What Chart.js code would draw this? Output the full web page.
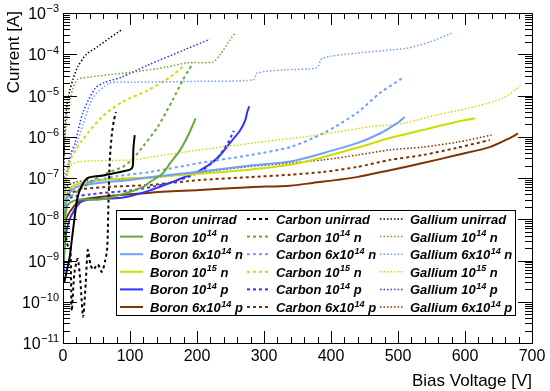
<!DOCTYPE html>
<html>
<head>
<meta charset="utf-8">
<script src="https://cdn.jsdelivr.net/npm/chart.js@4.4.1/dist/chart.umd.min.js"></script>
<style>
  html, body { margin: 0; padding: 0; background: #fff; }
  #wrap { width: 550px; height: 391px; }
</style>
</head>
<body>
<div id="wrap"><canvas id="myChart" width="550" height="391"></canvas></div>
<script>
// [bias voltage V, current A]
const boronUnirrad = [[2,3e-10],[6,6e-10],[10,1.2e-9],[13,3e-9],[17,1e-8],[21,3e-8],[27,6e-8],[37,1e-7],[60,1.15e-7],[80,1.35e-7],[100,1.6e-7],[104,1.9e-7],[105,5e-7],[107,1.1e-6]];
const carbonUnirrad = [[3,5e-9],[8,2e-9],[11,2e-9],[13,6e-11],[17,5e-10],[22,1.1e-9],[26,3e-10],[30,4.3e-11],[34,3e-10],[37,1.8e-9],[41,8e-10],[45,6e-10],[52,8e-10],[58,5.3e-10],[63,1e-9],[66,2e-9],[68,3e-8],[70,3e-7],[73,1.2e-6],[76,2.5e-6],[79,4e-6]];
const galliumUnirrad = [[0.5,1e-8],[1,1e-7],[2,6e-7],[3,2e-6],[6,6e-6],[10,1.3e-5],[15,2.5e-5],[22,5e-5],[35,1e-4],[51,1.5e-4],[70,2.5e-4],[88,4e-4]];

const boron1e14n = [[1,1e-9],[2,5e-9],[5,1.8e-8],[10,2.5e-8],[25,3e-8],[55,3e-8],[85,3.9e-8],[119,6e-8],[130,8e-8],[149,1.3e-7],[160,2.3e-7],[175,4.8e-7],[187,1.1e-6],[198,2.8e-6]];
const carbon1e14n = [[2,1e-8],[8,3e-8],[30,6e-8],[60,1.2e-7],[90,1.9e-7],[105,3e-7],[120,6e-7],[141,1.7e-6],[164,8e-6],[179,2.4e-5],[187,4e-5],[194,6e-5]];
const gallium1e14n = [[1,2e-7],[3,1e-6],[6,3e-6],[12,1e-5],[21,2.4e-5],[40,2.8e-5],[70,3.2e-5],[110,3.8e-5],[155,4.9e-5],[185,6.2e-5],[224,6.5e-5],[234,9.5e-5],[249,2.2e-4],[257,3.3e-4]];

const boron6e14n = [[1,3e-9],[3,1.5e-8],[8,4e-8],[20,6e-8],[50,7.5e-8],[100,9e-8],[130,1.05e-7],[200,1.4e-7],[280,2e-7],[339,2.5e-7],[388,4e-7],[439,7e-7],[473,1.2e-6],[498,2.1e-6],[510,3e-6]];
const carbon6e14n = [[1,1e-8],[4,3e-8],[10,5e-8],[40,8e-8],[80,1.1e-7],[130,1.4e-7],[204,2.3e-7],[279,3.6e-7],[339,5.6e-7],[388,1.2e-6],[439,3.8e-6],[473,1.15e-5],[506,2.6e-5]];
const gallium6e14n = [[1,3e-8],[3,1e-7],[10,3e-7],[21,7e-7],[30,2e-6],[45,9e-6],[70,2e-5],[103,2.1e-5],[200,2.2e-5],[284,2.4e-5],[290,3.5e-5],[330,4.2e-5],[379,4.7e-5],[387,8e-5],[439,1.07e-4],[513,1.4e-4],[548,2e-4],[581,3.3e-4]];

const boron1e15n = [[1,5e-9],[3,2e-8],[8,5e-8],[20,7e-8],[60,9e-8],[130,1.05e-7],[250,1.45e-7],[339,2.1e-7],[388,3.2e-7],[439,5.4e-7],[488,9.3e-7],[537,1.45e-6],[588,2.3e-6],[615,2.8e-6]];
const carbon1e15n = [[1,3e-8],[5,1e-7],[12,3e-7],[20,5e-7],[28,8e-7],[58,3e-6],[88,6.9e-6],[127,1.35e-5],[160,2.8e-5],[182,5.5e-5]];
const gallium1e15n = [[1,3e-8],[5,1e-7],[12,2e-7],[25,2.5e-7],[104,2.75e-7],[130,3.2e-7],[204,4.8e-7],[319,8.3e-7],[358,9.8e-7],[409,1.3e-6],[458,1.75e-6],[507,2.1e-6],[558,3.4e-6],[607,5e-6],[657,8.7e-6],[682,1.7e-5]];

const boron1e14p = [[1,5e-10],[3,3e-9],[10,1e-8],[25,2.5e-8],[40,3e-8],[88,3.3e-8],[130,5e-8],[178,1e-7],[204,1.5e-7],[230,3e-7],[249,7e-7],[264,1.4e-6],[272,2.5e-6],[275,4e-6],[278,5.5e-6]];
const carbon1e14p = [[1,1e-8],[5,3e-8],[40,4e-8],[100,5e-8],[150,7e-8],[200,1.3e-7],[230,3e-7],[246,7e-7],[252,1.1e-6],[255,1.4e-6]];
const gallium1e14p = [[1,2e-8],[5,1e-7],[12,4e-7],[18,7e-7],[30,4e-6],[48,1.5e-5],[63,2.1e-5],[88,2.8e-5],[127,5.5e-5],[182,1.3e-4],[219,2.3e-4]];

const boron6e14p = [[1,2e-9],[3,8e-9],[10,1.5e-8],[28,3e-8],[130,4.4e-8],[204,5.1e-8],[279,6e-8],[339,6.5e-8],[373,7.6e-8],[439,1.05e-7],[488,1.55e-7],[537,2.3e-7],[588,3.6e-7],[637,5.6e-7],[667,9.3e-7],[679,1.2e-6]];
const carbon6e14p = [[1,5e-9],[5,3e-8],[20,5e-8],[60,6e-8],[130,6.8e-8],[204,8.9e-8],[279,1.05e-7],[339,1.2e-7],[388,1.4e-7],[439,1.85e-7],[488,2.75e-7],[537,3.6e-7],[588,5.4e-7],[637,8.3e-7]];
const gallium6e14p = [[1,2e-8],[5,6e-8],[20,8e-8],[60,9e-8],[130,1e-7],[279,1.9e-7],[339,2.3e-7],[388,2.75e-7],[439,3.6e-7],[488,4.8e-7],[537,5.6e-7],[588,7.4e-7],[640,1.1e-6]];

// legend rows: [label parts, colour]
const fluences = [
  ['unirrad', null, ''],
  ['10', '14', ' n'],
  ['6x10', '14', ' n'],
  ['10', '15', ' n'],
  ['10', '14', ' p'],
  ['6x10', '14', ' p']
];
const colours = ['#000000', '#66aa33', '#6f9fff', '#ccdd00', '#3333ff', '#7f3300'];
const materials = ['Boron', 'Carbon', 'Gallium'];
const seriesData = [
  [boronUnirrad, carbonUnirrad, galliumUnirrad],
  [boron1e14n, carbon1e14n, gallium1e14n],
  [boron6e14n, carbon6e14n, gallium6e14n],
  [boron1e15n, carbon1e15n, gallium1e15n],
  [boron1e14p, carbon1e14p, gallium1e14p],
  [boron6e14p, carbon6e14p, gallium6e14p]
];

const xTicks = [0, 100, 200, 300, 400, 500, 600, 700];
const yExponents = [-11, -10, -9, -8, -7, -6, -5, -4, -3];

const styles = [
  { width: 2, dash: [] },
  { width: 2, dash: [3, 3] },
  { width: 1.5, dash: [1.5, 2] }
];

const FONT = '"Liberation Sans", Arial, Helvetica, sans-serif';

let datasets = [];
for (let r = 0; r < seriesData.length; r++) {
  for (let m = 0; m < 3; m++) {
    datasets.push({
      label: materials[m] + ' ' + fluences[r].join(''),
      data: seriesData[r][m].map(p => ({ x: p[0], y: p[1] })),
      borderColor: colours[r],
      borderWidth: styles[m].width,
      borderDash: styles[m].dash,
      pointRadius: 0,
      tension: 0.25,
      fill: false
    });
  }
}

// draw "base" + superscript + tail, returns width
function richText(ctx, parts, x, y, size, style, measureOnly) {
  let cx = x;
  ctx.font = style + size + 'px ' + FONT;
  let w0 = ctx.measureText(parts[0]).width;
  if (!measureOnly) ctx.fillText(parts[0], cx, y);
  cx += w0;
  if (parts[1]) {
    ctx.font = style + Math.round(size * 0.68) + 'px ' + FONT;
    if (!measureOnly) ctx.fillText(parts[1], cx + 0.5, y - size * 0.42);
    cx += ctx.measureText(parts[1]).width + 0.5;
  }
  if (parts[2]) {
    ctx.font = style + size + 'px ' + FONT;
    if (!measureOnly) ctx.fillText(parts[2], cx, y);
    cx += ctx.measureText(parts[2]).width;
  }
  return cx - x;
}

const framePlugin = {
  id: 'frame',
  afterDatasetsDraw(chart) {
    const ctx = chart.ctx;
    const a = chart.chartArea;
    const xs = chart.scales.x, ys = chart.scales.y;
    ctx.save();
    ctx.setLineDash([]);
    ctx.fillStyle = '#000';
    ctx.strokeStyle = '#000';

    // legend box
    const lx = 116, ly = 210, lw = 399, lh = 105;
    ctx.fillStyle = '#fff';
    ctx.fillRect(lx, ly, lw, lh);
    ctx.lineWidth = 1;
    ctx.strokeRect(lx + 0.5, ly + 0.5, lw, lh);
    const colLine = [[120, 143], [247, 270], [380, 403]];
    const colText = [150, 276, 410];
    ctx.textBaseline = 'alphabetic';
    ctx.textAlign = 'left';
    for (let r = 0; r < fluences.length; r++) {
      const cy = 219 + r * 17.6;
      for (let m = 0; m < 3; m++) {
        ctx.strokeStyle = colours[r];
        ctx.lineWidth = styles[m].width;
        ctx.setLineDash(styles[m].dash);
        ctx.beginPath();
        ctx.moveTo(colLine[m][0], cy);
        ctx.lineTo(colLine[m][1], cy);
        ctx.stroke();
        ctx.setLineDash([]);
        ctx.fillStyle = '#000';
        const f = fluences[r];
        richText(ctx, [materials[m] + ' ' + f[0], f[1], f[2]], colText[m], cy + 5, 13, 'italic bold ', false);
      }
    }

    // frame
    ctx.strokeStyle = '#000';
    ctx.lineWidth = 1;
    ctx.strokeRect(Math.round(a.left) + 0.5, Math.round(a.top) + 0.5, Math.round(a.right - a.left), Math.round(a.bottom - a.top));

    // x ticks (bottom and top, inward)
    ctx.beginPath();
    for (let v = 0; v <= 700; v += 20) {
      const px = Math.round(xs.getPixelForValue(v)) + 0.5;
      const len = v % 100 === 0 ? 12 : 6;
      ctx.moveTo(px, a.bottom); ctx.lineTo(px, a.bottom - len);
      ctx.moveTo(px, a.top); ctx.lineTo(px, a.top + len);
    }
    // y ticks (left and right, inward)
    for (let e = -11; e <= -3; e++) {
      const steps = e === -3 ? [1] : [1, 2, 3, 4, 5, 6, 7, 8, 9];
      for (const k of steps) {
        const py = Math.round(ys.getPixelForValue(k * Math.pow(10, e))) + 0.5;
        const len = k === 1 ? 14 : 7;
        ctx.moveTo(a.left, py); ctx.lineTo(a.left + len, py);
        ctx.moveTo(a.right, py); ctx.lineTo(a.right - len, py);
      }
    }
    ctx.stroke();

    // x tick labels
    ctx.fillStyle = '#000';
    ctx.font = '16px ' + FONT;
    ctx.textAlign = 'center';
    for (const v of xTicks) {
      ctx.fillText(String(v), xs.getPixelForValue(v), a.bottom + 18);
    }
    // y tick labels, 10 with superscript exponent, right aligned
    ctx.textAlign = 'left';
    for (const e of yExponents) {
      const py = ys.getPixelForValue(Math.pow(10, e));
      const parts = ['10', '\u2212' + Math.abs(e), ''];
      const w = richText(ctx, parts, 0, 0, 16, '', true);
      richText(ctx, parts, 59 - w, py + 6, 16, '', false);
    }

    // axis titles
    ctx.font = '17px ' + FONT;
    ctx.textAlign = 'right';
    ctx.fillText('Bias Voltage [V]', a.right, 386);
    ctx.save();
    ctx.translate(19, a.top - 2);
    ctx.rotate(-Math.PI / 2);
    ctx.textAlign = 'right';
    ctx.fillText('Current [A]', 0, 0);
    ctx.restore();
    ctx.restore();
  }
};

const ctx = document.getElementById('myChart');
const myChart = new Chart(ctx, {
  type: 'line',
  data: { datasets: datasets },
  options: {
    responsive: false,
    animation: false,
    layout: { padding: { left: 63, right: 18, top: 13, bottom: 48 } },
    plugins: { legend: { display: false }, tooltip: { enabled: false } },
    scales: {
      x: { type: 'linear', min: 0, max: 700, display: false },
      y: { type: 'logarithmic', min: 1e-11, max: 1e-3, display: false }
    }
  },
  plugins: [framePlugin]
});
</script>
</body>
</html>
